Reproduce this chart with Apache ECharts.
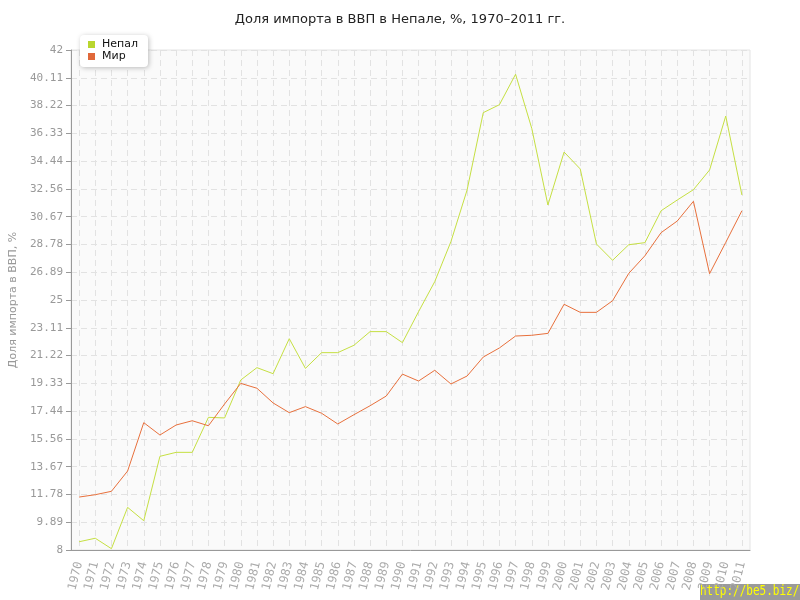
<!DOCTYPE html>
<html><head><meta charset="utf-8">
<script src="https://cdn.jsdelivr.net/npm/echarts@6/dist/echarts.min.js"></script>
<style>html,body{margin:0;padding:0;background:#fff}#c{width:800px;height:600px}</style>
</head><body><div id="c"></div>
<script>
const years = ['1970','1971','1972','1973','1974','1975','1976','1977','1978','1979','1980','1981','1982','1983','1984','1985','1986','1987','1988','1989','1990','1991','1992','1993','1994','1995','1996','1997','1998','1999','2000','2001','2002','2003','2004','2005','2006','2007','2008','2009','2010','2011'];
const nepal = [8.56,8.80,8.09,10.90,9.99,14.37,14.64,14.64,17.02,16.98,19.56,20.40,19.99,22.37,20.35,21.42,21.42,21.92,22.85,22.85,22.10,24.21,26.25,28.97,32.48,37.74,38.28,40.35,36.67,31.46,35.06,33.91,28.81,27.70,28.76,28.90,31.07,31.80,32.50,33.84,37.51,32.14];
const world = [11.60,11.76,11.99,13.37,16.66,15.82,16.50,16.79,16.45,17.93,19.33,19.00,18.00,17.34,17.75,17.30,16.57,17.20,17.81,18.47,19.96,19.49,20.22,19.29,19.83,21.12,21.74,22.55,22.60,22.73,24.71,24.16,24.16,24.95,26.81,28.01,29.58,30.37,31.71,26.79,28.92,31.07];
const seriesNames = ['Непал','Мир'];
const yMin = 8, yMax = 42, ySteps = 18;

const chart = echarts.init(document.getElementById('c'));
chart.setOption({
  animation:false,
  backgroundColor:'#fff',
  title:{text:'Доля импорта в ВВП в Непале, %, 1970–2011 гг.',left:'center',top:8,
    textStyle:{fontFamily:'DejaVu Sans',fontSize:13,fontWeight:'normal',color:'#222'}},
  legend:{left:80,top:35,orient:'vertical',itemWidth:7,itemHeight:7,itemGap:1,icon:'rect',
    padding:[4,10,5,8],backgroundColor:'#fff',borderRadius:4,
    shadowColor:'rgba(0,0,0,0.25)',shadowBlur:5,shadowOffsetX:1,shadowOffsetY:1,
    textStyle:{fontFamily:'DejaVu Sans',fontSize:11,lineHeight:11,color:'#111',padding:[0,0,0,2]},
    data:seriesNames},
  grid:{left:71,right:50,top:50,bottom:50,show:true,backgroundColor:'#fafafa',borderColor:'#e4e4e4',borderWidth:1},
  xAxis:{type:'category',data:years,boundaryGap:true,
    axisLine:{lineStyle:{color:'#999',width:1}},
    axisTick:{alignWithLabel:true,length:5,lineStyle:{color:'#999'}},
    axisLabel:{rotate:76,interval:0,color:'#aaa',fontFamily:'DejaVu Sans Mono',fontSize:12,margin:12},
    splitLine:{show:true,alignWithLabel:true,lineStyle:{color:'#e2e2e2',type:[6,4]}}},
  yAxis:{type:'value',min:yMin,max:yMax,interval:(yMax-yMin)/ySteps,
    name:'Доля импорта в ВВП, %',nameLocation:'middle',nameGap:46,
    nameTextStyle:{fontFamily:'DejaVu Sans',fontSize:11,color:'#999'},
    axisLine:{show:true,lineStyle:{color:'#999',width:1}},
    axisTick:{show:true,length:5,lineStyle:{color:'#999'}},
    axisLabel:{color:'#999',fontFamily:'DejaVu Sans Mono',fontSize:11,margin:8,
      formatter:v=>String(+v.toFixed(2))},
    splitLine:{show:true,lineStyle:{color:'#e2e2e2',type:[6,4]}}},
  series:[
    {name:seriesNames[0],type:'line',data:nepal,symbol:'none',lineStyle:{width:1,color:'#c5df42'},itemStyle:{color:'#b9d62e'}},
    {name:seriesNames[1],type:'line',data:world,symbol:'none',lineStyle:{width:1,color:'#e8703c'},itemStyle:{color:'#e0683a'}}
  ],
  graphic:[
    {type:'rect',left:700,top:584,shape:{width:100,height:16},style:{fill:'#9a9a9a'}},
    {type:'text',left:700,top:585,scaleY:1.2,style:{text:'http://be5.biz/',fill:'#ffff00',font:'11px "DejaVu Sans Mono"'}}
  ]
});
</script></body></html>
